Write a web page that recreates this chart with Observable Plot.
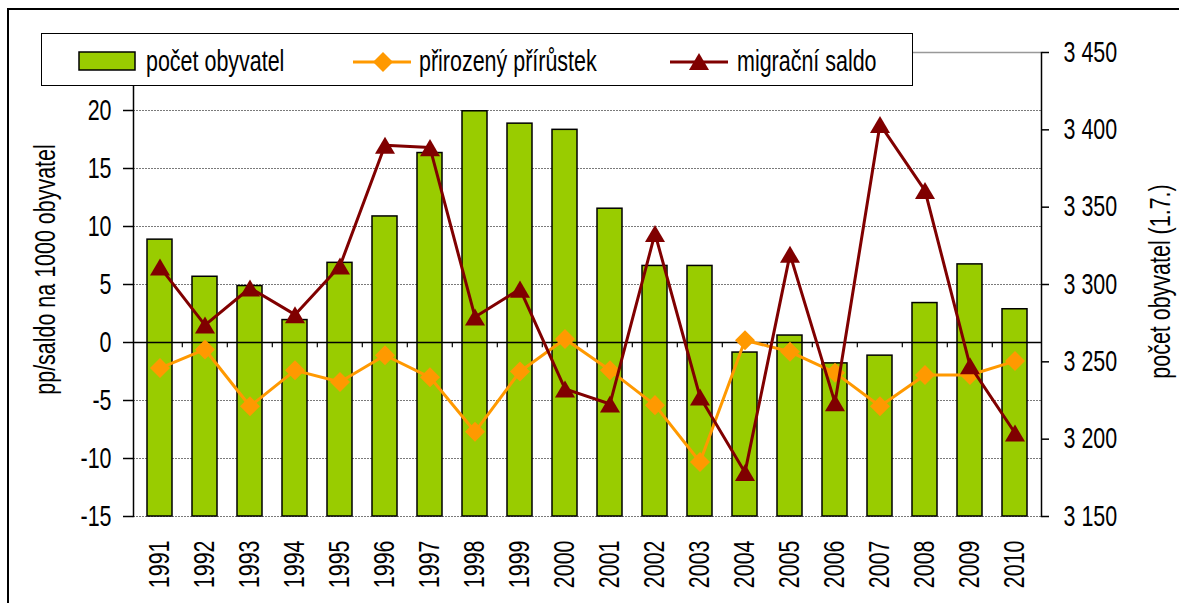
<!DOCTYPE html>
<html><head><meta charset="utf-8">
<script src="https://cdn.jsdelivr.net/npm/d3@7"></script>
<script src="https://cdn.jsdelivr.net/npm/@observablehq/plot@0.6"></script>
<style>
body{margin:0;background:#fff;overflow:hidden}
#wrap{position:relative;width:1179px;height:603px;overflow:hidden;font-family:"Liberation Sans",Arial,sans-serif}
#chart{position:absolute;left:0;top:0}
#border{position:absolute;left:7px;top:8px;width:1300px;height:700px;border:2px solid #000;pointer-events:none}
#legend{position:absolute;left:41px;top:33px;width:870px;height:51px;border:1.5px solid #000;background:#fff}
#legend svg{position:absolute;left:0;top:0}
.lt{position:absolute;top:0;line-height:55px;font-size:29px;color:#000;white-space:nowrap;transform:scaleX(0.74);transform-origin:0 50%}
</style></head><body>
<div id="wrap"><div id="chart"></div><div id="border"></div><div id="legend"></div></div>
<script>
// ---- data ----
const years = ["1991","1992","1993","1994","1995","1996","1997","1998","1999","2000","2001","2002","2003","2004","2005","2006","2007","2008","2009","2010"];
const population = [3329, 3305, 3299, 3277, 3314, 3344, 3385, 3412, 3404, 3400, 3349, 3312, 3312, 3256, 3267, 3249, 3254, 3288, 3313, 3284];
const naturalIncrease = [-2.2, -0.6, -5.5, -2.4, -3.4, -1.1, -3.0, -7.7, -2.5, 0.3, -2.4, -5.4, -10.3, 0.2, -0.8, -2.6, -5.5, -2.8, -2.8, -1.6];
const migration = [6.5, 1.5, 4.7, 2.4, 6.6, 17.0, 16.8, 2.2, 4.6, -4.0, -5.3, 9.4, -4.7, -11.2, 7.6, -5.2, 18.8, 13.1, -2.0, -7.8];
const leftTicks = [-15, -10, -5, 0, 5, 10, 15, 20];
const rightTicks = [3150, 3200, 3250, 3300, 3350, 3400, 3450];
const seriesNames = ["počet obyvatel", "přirozený přírůstek", "migrační saldo"];
const leftTitle = "pp/saldo na 1000 obyvatel";
const rightTitle = "počet obyvatel (1.7.)";
const colors = {bar: "#99CC00", nat: "#FF9900", mig: "#800000"};

// dual axis: right [3150, 3450] aligned with left [-15, 25]
const toLeft = p => (p - 3150) / 7.5 - 15;
const fmtPop = v => String(Math.round(v)).replace(/\B(?=(\d{3})+$)/g, " ");

const rows = years.map((y, i) => ({year: y, pop: population[i], nat: naturalIncrease[i], mig: migration[i]}));

const diamond = {draw(ctx, size) { const r = Math.sqrt(size / 2); ctx.moveTo(0, -r); ctx.lineTo(r, 0); ctx.lineTo(0, r); ctx.lineTo(-r, 0); ctx.closePath(); }};
const triangle = {draw(ctx, size) { const w = Math.sqrt(size / 2); ctx.moveTo(0, -0.85 * w); ctx.lineTo(w, 0.85 * w); ctx.lineTo(-w, 0.85 * w); ctx.closePath(); }};

const FONT = '"Liberation Sans",Arial,sans-serif';
const FS = 29;
const chart = Plot.plot({
  width: 1179, height: 603,
  marginLeft: 133, marginRight: 138, marginTop: 52, marginBottom: 87,
  style: {fontFamily: FONT, fontSize: FS + "px", color: "#000", background: "transparent", overflow: "visible"},
  x: {type: "band", domain: years, paddingInner: 0.45, paddingOuter: 0.225},
  y: {domain: [-15, 25]},
  marks: [
    Plot.ruleY(leftTicks.filter(d => d !== 0), {stroke: "#7a7a7a", strokeDasharray: "2,1", strokeWidth: 1}),
    Plot.ruleY([25], {stroke: "#999", strokeWidth: 1.5}),
    Plot.barY(rows, {x: "year", y1: -15, y2: d => toLeft(d.pop), fill: colors.bar, stroke: "#000", strokeWidth: 1.5}),
    Plot.ruleY([0], {stroke: "#000", strokeWidth: 1.5}),
    Plot.ruleX(years.slice(1), {x: d => d, y1: 0, y2: -0.45, dx: -22.7, stroke: "#000", strokeWidth: 1.2}),
    Plot.line(rows, {x: "year", y: "nat", stroke: colors.nat, strokeWidth: 3}),
    Plot.dot(rows, {x: "year", y: "nat", symbol: diamond, r: 8, fill: colors.nat, stroke: "none"}),
    Plot.line(rows, {x: "year", y: "mig", stroke: colors.mig, strokeWidth: 3}),
    Plot.dot(rows, {x: "year", y: "mig", symbol: triangle, r: 8, fill: colors.mig, stroke: "none"}),
    Plot.frame({anchor: "left", stroke: "#000", strokeWidth: 1.5}),
    Plot.frame({anchor: "right", stroke: "#000", strokeWidth: 1.5}),
    Plot.axisY(leftTicks, {anchor: "left", tickSize: 10, tickPadding: 12, strokeWidth: 1.5, label: null, tickFormat: d => String(d)}),
    Plot.axisY(rightTicks.map(toLeft), {anchor: "right", tickSize: 7, strokeWidth: 1.5, label: null, tickFormat: () => ""}),
    Plot.text(rightTicks, {y: d => toLeft(d), text: d => fmtPop(d), frameAnchor: "right", textAnchor: "start", lineAnchor: "middle", dx: 22, fontSize: FS, fill: "#000"}),
    Plot.axisX({anchor: "bottom", tickSize: 0, tickRotate: -90, tickPadding: 24, label: null}),
    Plot.text([leftTitle], {text: d => d, frameAnchor: "left", textAnchor: "middle", rotate: -90, dx: -88, dy: -15, fontSize: FS, fill: "#000"}),
    Plot.text([rightTitle], {text: d => d, frameAnchor: "right", textAnchor: "middle", rotate: -90, dx: 119, dy: -3, fontSize: FS, fill: "#000"})
  ]
});
// condense all texts along their writing direction (narrow font look)
d3.select(chart).selectAll("text").each(function () {
  const t = this.getAttribute("transform");
  if (t) this.setAttribute("transform", t + " scale(0.74,1)");
  else {
    const x = +this.getAttribute("x") || 0, y = +this.getAttribute("y") || 0;
    this.setAttribute("x", 0); this.setAttribute("y", 0);
    this.setAttribute("transform", `translate(${x},${y}) scale(0.74,1)`);
  }
});
document.getElementById("chart").appendChild(chart);

// legend
const lg = document.getElementById("legend");
const L = 41, T = 33;
const cy = 61 - T;
lg.innerHTML = `
<svg width="870" height="51">
  <rect x="${78 - L}" y="${51 - T}" width="56" height="18" fill="${colors.bar}" stroke="#000" stroke-width="1.5"/>
  <line x1="${352 - L}" x2="${410 - L}" y1="${cy}" y2="${cy}" stroke="${colors.nat}" stroke-width="3"/>
  <path d="M${382 - L},${cy - 10} l10,10 l-10,10 l-10,-10 z" fill="${colors.nat}"/>
  <line x1="${669 - L}" x2="${727 - L}" y1="${cy}" y2="${cy}" stroke="${colors.mig}" stroke-width="3"/>
  <path d="M${698 - L},${cy - 9} l10,17 l-20,0 z" fill="${colors.mig}"/>
</svg>
<div class="lt" style="left:${145 - L}px">${seriesNames[0]}</div>
<div class="lt" style="left:${418 - L}px">${seriesNames[1]}</div>
<div class="lt" style="left:${736 - L}px">${seriesNames[2]}</div>`;
</script>
</body></html>
